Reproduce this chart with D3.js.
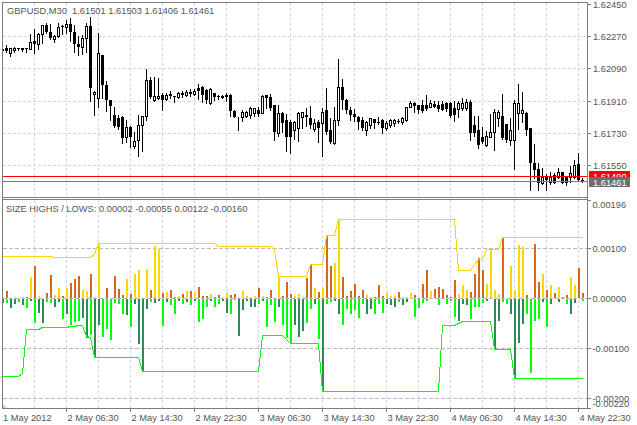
<!DOCTYPE html>
<html><head><meta charset="utf-8">
<script src="https://cdn.jsdelivr.net/npm/d3@7"></script>
<style>
html,body{margin:0;padding:0;background:#fff;}
svg{display:block;}
text{font-family:"Liberation Sans",Arial,sans-serif;font-size:9.3px;fill:#555;}
</style></head><body>
<svg id="c" width="637" height="425"></svg>
<script>
const symbolLabel = "GBPUSD,M30";
const lastQuote = ["1.61501","1.61503","1.61406","1.61461"];
const indicatorName = "SIZE HIGHS / LOWS:";
const indicatorLast = ["0.00002","-0.00055","0.00122","-0.00160"];
const timeLabels = ["1 May 2012","2 May 06:30","2 May 14:30","2 May 22:30","3 May 06:30","3 May 14:30","3 May 22:30","4 May 06:30","4 May 14:30","4 May 22:30"];
const timeLabelBars = [0,16,32,48,64,80,96,112,128,144];
const gridBars = [8,16,24,32,40,48,56,64,72,80,88,96,104,112,120,128,136,144];
const priceTicks = [1.62450,1.62270,1.62090,1.61910,1.61730,1.61550];
const indTicks = [0.00196,0.00100,0,-0.00100,-0.00200,-0.00220];
const indGrid = [0.00100,0,-0.00100,-0.00200];
const askLevel = 1.61490, bidLevel = 1.61461;

const openP = [
1.62193,1.62204,1.62176,1.62193,1.62204,1.62198,1.62204,1.62201,1.62243,1.62226,
1.62282,1.62333,1.62293,1.62254,1.62271,1.62327,1.62319,1.62338,1.62293,1.62226,
1.62210,1.62260,1.62327,1.61947,1.61925,1.62165,1.61997,1.61913,1.61830,1.61813,
1.61818,1.61707,1.61762,1.61656,1.61690,1.61774,1.61824,1.62025,1.61913,1.61925,
1.61941,1.61919,1.61947,1.61936,1.61930,1.61953,1.61941,1.61958,1.61947,1.61980,
1.61986,1.61969,1.61897,1.61953,1.61933,1.61930,1.61936,1.61941,1.61852,1.61816,
1.61818,1.61824,1.61830,1.61841,1.61857,1.61841,1.61941,1.61930,1.61885,1.61729,
1.61841,1.61802,1.61790,1.61746,1.61757,1.61818,1.61830,1.61813,1.61751,1.61790,
1.61785,1.61857,1.61746,1.61673,1.61802,1.61986,1.61913,1.61857,1.61835,1.61818,
1.61802,1.61746,1.61774,1.61807,1.61790,1.61802,1.61757,1.61774,1.61785,1.61796,
1.61790,1.61802,1.61874,1.61897,1.61885,1.61885,1.61885,1.61874,1.61891,1.61885,
1.61891,1.61897,1.61897,1.61869,1.61863,1.61869,1.61869,1.61902,1.61774,1.61746,
1.61707,1.61662,1.61707,1.61735,1.61813,1.61824,1.61779,1.61690,1.61690,1.61841,
1.61841,1.61841,1.61757,1.61561,1.61526,1.61449,1.61483,1.61455,1.61494,1.61483,
1.61509,1.61483,1.61483,1.61483,1.61556,1.61466];
const closeP = [
1.62198,1.62187,1.62204,1.62204,1.62198,1.62204,1.62201,1.62238,1.62226,1.62282,
1.62333,1.62293,1.62260,1.62271,1.62321,1.62319,1.62338,1.62293,1.62226,1.62210,
1.62260,1.62327,1.61980,1.61958,1.62176,1.61997,1.61913,1.61880,1.61768,1.61762,
1.61701,1.61762,1.61707,1.61684,1.61774,1.61824,1.62025,1.61930,1.61936,1.61936,
1.61913,1.61941,1.61936,1.61930,1.61953,1.61941,1.61958,1.61947,1.61964,1.61964,
1.61941,1.61913,1.61975,1.61930,1.61930,1.61936,1.61941,1.61852,1.61818,1.61818,
1.61846,1.61846,1.61869,1.61866,1.61835,1.61936,1.61925,1.61869,1.61735,1.61841,
1.61785,1.61707,1.61707,1.61790,1.61841,1.61846,1.61818,1.61774,1.61785,1.61757,
1.61846,1.61735,1.61679,1.61802,1.61986,1.61913,1.61857,1.61830,1.61818,1.61790,
1.61757,1.61790,1.61813,1.61785,1.61788,1.61757,1.61785,1.61802,1.61802,1.61790,
1.61813,1.61874,1.61897,1.61880,1.61857,1.61852,1.61863,1.61897,1.61874,1.61863,
1.61857,1.61863,1.61824,1.61830,1.61897,1.61897,1.61902,1.61729,1.61729,1.61662,
1.61679,1.61712,1.61735,1.61846,1.61846,1.61701,1.61690,1.61746,1.61897,1.61897,
1.61857,1.61746,1.61561,1.61521,1.61449,1.61483,1.61466,1.61483,1.61449,1.61509,
1.61449,1.61449,1.61503,1.61550,1.61466,1.61461];
// indicator buffers: size of upper wick (highs) and lower wick (lows)
const upperWick = [
0,0.00015,0,0.00003,0,0.00001,0.00001,0.00043,0.00065,0.00005,
0,0.0001,0.00046,0.00007,0.00021,0.00004,0.00021,0.00031,0.00038,0.00045,
0.00017,0.00015,0.00049,0.00003,0.0011,0,0.00021,0,0.00045,0.00018,
0.00006,0.00038,0.00008,0.00048,0.00057,0,0.00059,0.00016,0.00105,0.00098,
0.00011,0.00013,0.00017,0.00001,0.00005,0.00008,0.00014,0.00015,0.00013,0.00023,
0.00005,0.00005,0.00008,0.00001,0.00006,0.00003,0.0001,0.00006,0.00008,0.00003,
0.00014,0.00005,0.00003,0.00005,0.0002,0.00005,0.00001,0.00017,0,0.00045,
0.00005,0.00033,0.00009,0.00004,0.00008,0.00003,0.00041,0.00068,0.0002,0.00013,
0.00021,0.00126,0.00065,0.0007,0.00158,0.00043,0.00005,0.00015,0.00028,0.00005,
0.00016,0.00007,0.00001,0.00001,0.00026,0.00004,0.0001,0.00005,0.00005,0.00013,
0.00003,0.00003,0.0001,0.00006,0,0.00028,0.00057,0.00015,0.00019,0.00023,
0.00019,0.00007,0.00003,0.00037,0.00009,0.00027,0.00016,0.00013,0.00049,0.0008,
0.00057,0.00029,0.00099,0.00017,0.00009,0.00122,0,0.00065,0.00017,0.00107,
0.00103,0.00007,0,0.00108,0.00033,0.00049,0.00016,0.00027,0.00011,0.00023,
0.00002,0.00007,0.00043,0.00026,0.00061,0.00011];
const lowerWick = [
0.00008,0.00008,0.00018,0.0001,0.00005,0.00012,0.00018,0.00003,0.00048,0.00028,
0.00048,0.00005,0.00008,0.00016,0.00005,0.00039,0.00029,0.00051,0.00045,0.00043,
0.00037,0.00077,0.00071,0.00115,0.00051,0.00075,0.00061,0.00081,0.00008,0.0001,
0.00029,0.00031,0.00055,0.0001,0.0009,0.00145,0.0002,0.00005,0.00008,0.00004,
0.00053,0.00005,0.00012,0.00029,0.00004,0.0001,0.00006,0.00012,0.00003,0.00045,
0.00039,0.00015,0.00004,0.00015,0.0001,0.00004,0.00028,0.0003,0.00002,0.00073,
0.00022,0.00003,0.00015,0.00015,0.0001,0.00003,0.00055,0.00012,0.00045,0.00015,
0.00051,0.00078,0.00088,0.00051,0.00075,0.00063,0.00048,0.00019,0.0001,0.00079,
0.00185,0.0001,0.00005,0.00003,0.00029,0.00051,0.00019,0.00029,0.00022,0.00037,
0.0001,0.00029,0.00019,0.00029,0.0001,0.00028,0.0001,0.00012,0.00015,0.00005,
0.00012,0.00005,0,0.00035,0.00018,0.00007,0.00004,0,0,0.00012,
0,0.00009,0.00004,0.00035,0.00043,0.0001,0.00012,0.00039,0.00015,0.00015,
0.00008,0.00004,0,0.00102,0.00043,0.00005,0.0001,0.0003,0.0016,0.00088,
0.0005,0.00029,0.00148,0.00043,0.00039,0.00005,0.00055,0.0001,0,0.00005,
0,0.0001,0.0003,0.00008,0,0.00004];
const upperLine = [
0.00085,0.00085,0.00085,0.00085,0.00085,0.00085,0.00085,0.00085,0.00085,0.00085,
0.00085,0.00085,0.00085,0.00082,0.00082,0.00082,0.00082,0.00082,0.00082,0.00082,
0.00082,0.00082,0.00082,0.00088,0.0011,0.0011,0.0011,0.0011,0.0011,0.0011,
0.0011,0.0011,0.0011,0.0011,0.0011,0.0011,0.0011,0.0011,0.0011,0.0011,
0.0011,0.0011,0.0011,0.0011,0.0011,0.0011,0.0011,0.0011,0.0011,0.0011,
0.0011,0.0011,0.0011,0.0011,0.00105,0.00105,0.00105,0.00105,0.00105,0.00105,
0.00105,0.00105,0.00105,0.00105,0.00105,0.00105,0.00105,0.00105,0.00098,0.00045,
0.00045,0.00045,0.00045,0.00045,0.00045,0.00045,0.00045,0.00068,0.00068,0.00068,
0.00068,0.00126,0.00126,0.00126,0.00158,0.00158,0.00158,0.00158,0.00158,0.00158,
0.00158,0.00158,0.00158,0.00158,0.00158,0.00158,0.00158,0.00158,0.00158,0.00158,
0.00158,0.00158,0.00158,0.00158,0.00158,0.00158,0.00158,0.00158,0.00158,0.00158,
0.00158,0.00158,0.00158,0.00158,0.00057,0.00057,0.00057,0.00057,0.00068,0.00078,
0.00078,0.00098,0.00098,0.00098,0.00098,0.00122,0.00122,0.00122,0.00122,0.00122,
0.00122,0.00122,0.00122,0.00122,0.00122,0.00122,0.00122,0.00122,0.00122,0.00122,
0.00122,0.00122,0.00122,0.00122,0.00122,0.00122];
const lowerLine = [
-0.00156,-0.00156,-0.00156,-0.00156,-0.00156,-0.0015,-0.00062,-0.00062,-0.00062,-0.00062,
-0.00058,-0.00058,-0.00058,-0.00058,-0.00058,-0.00058,-0.00058,-0.00056,-0.00056,-0.00054,
-0.00054,-0.00075,-0.00078,-0.00117,-0.00117,-0.00117,-0.00117,-0.00117,-0.00117,-0.00117,
-0.00117,-0.00117,-0.00117,-0.00117,-0.00118,-0.00145,-0.00145,-0.00145,-0.00145,-0.00145,
-0.00145,-0.00145,-0.00145,-0.00145,-0.00145,-0.00145,-0.00145,-0.00145,-0.00145,-0.00145,
-0.00145,-0.00145,-0.00145,-0.00145,-0.00145,-0.00145,-0.00145,-0.00145,-0.00145,-0.00145,
-0.00145,-0.00145,-0.00145,-0.00145,-0.00145,-0.00074,-0.00074,-0.00074,-0.00074,-0.00074,
-0.00074,-0.00082,-0.0009,-0.0009,-0.0009,-0.0009,-0.0009,-0.0009,-0.0009,-0.0009,
-0.00185,-0.00185,-0.00185,-0.00185,-0.00185,-0.00185,-0.00185,-0.00185,-0.00185,-0.00185,
-0.00185,-0.00185,-0.00185,-0.00185,-0.00185,-0.00185,-0.00185,-0.00185,-0.00185,-0.00185,
-0.00185,-0.00185,-0.00185,-0.00185,-0.00185,-0.00185,-0.00185,-0.00185,-0.00185,-0.00185,
-0.00053,-0.00053,-0.00053,-0.00053,-0.0005,-0.00045,-0.00045,-0.00045,-0.00045,-0.00045,
-0.00045,-0.00045,-0.00045,-0.00102,-0.00102,-0.00102,-0.00102,-0.00102,-0.0016,-0.0016,
-0.0016,-0.0016,-0.0016,-0.0016,-0.0016,-0.0016,-0.0016,-0.0016,-0.0016,-0.0016,
-0.0016,-0.0016,-0.0016,-0.0016,-0.0016,-0.0016];

// ---------- layout ----------
const W = 637, H = 425;
const L = 2, R = 587;
const pTop = 2, pBot = 197, iTop = 199, iBot = 408;
const svg = d3.select("#c");
const n = openP.length;
const idx = d3.range(n);

const x = d3.scaleLinear().domain([0, n - 1]).range([2.7, 582.7]);
const yP = d3.scaleLinear().domain([1.61550, 1.62450]).range([165, 4]);
const yI = d3.scaleLinear().domain([-0.0022, 0.00196]).range([408, 200]);
const px = i => Math.floor(x(i));

const defs = svg.append("defs");
defs.append("clipPath").attr("id","clipP").append("rect").attr("x",L+1).attr("y",pTop+1).attr("width",R-L-1).attr("height",pBot-pTop-1);
defs.append("clipPath").attr("id","clipI").append("rect").attr("x",L+1).attr("y",iTop+1).attr("width",R-L-1).attr("height",iBot-iTop-1);

svg.append("rect").attr("width",W).attr("height",H).attr("fill","#fff");

const gridCol = "#d6d3f0";
const gGrid = svg.append("g").attr("stroke",gridCol).attr("stroke-dasharray","3,2").attr("shape-rendering","crispEdges");
gridBars.forEach(b => {
  gGrid.append("line").attr("x1",px(b)+0.5).attr("x2",px(b)+0.5).attr("y1",pTop+1).attr("y2",pBot);
  gGrid.append("line").attr("x1",px(b)+0.5).attr("x2",px(b)+0.5).attr("y1",iTop+1).attr("y2",iBot);
});
priceTicks.slice(1).forEach(t => {
  const y = Math.round(yP(t)) + 0.5;
  gGrid.append("line").attr("x1",L+1).attr("x2",R).attr("y1",y).attr("y2",y);
});
const gGridI = svg.append("g").attr("stroke","#b9b9b9").attr("stroke-dasharray","4,2").attr("shape-rendering","crispEdges");
indGrid.forEach(t => {
  const y = Math.round(yI(t)) + 0.5;
  gGridI.append("line").attr("x1",L+1).attr("x2",R).attr("y1",y).attr("y2",y);
});

// ---------- candles ----------
const gC = svg.append("g").attr("clip-path","url(#clipP)").attr("shape-rendering","crispEdges");
idx.forEach(i => {
  const o = openP[i], c = closeP[i];
  const hi = Math.max(o,c) + upperWick[i], lo = Math.min(o,c) - lowerWick[i];
  const cx = px(i);
  const yT = Math.round(yP(Math.max(o,c))), yB = Math.round(yP(Math.min(o,c)));
  gC.append("line").attr("x1",cx+0.5).attr("x2",cx+0.5)
    .attr("y1",Math.round(yP(hi))).attr("y2",Math.round(yP(lo))+1).attr("stroke","#000");
  if (c > o) {
    gC.append("rect").attr("x",cx-0.5).attr("y",yT+0.5).attr("width",2).attr("height",Math.max(yB-yT,0))
      .attr("fill","#fff").attr("stroke","#000");
  } else {
    gC.append("rect").attr("x",cx-1).attr("y",yT).attr("width",3).attr("height",Math.max(yB-yT,1))
      .attr("fill","#000");
  }
});

svg.append("line").attr("x1",L+1).attr("x2",R).attr("y1",Math.round(yP(askLevel))+0.5).attr("y2",Math.round(yP(askLevel))+0.5)
  .attr("stroke","#ff0000").attr("shape-rendering","crispEdges");
svg.append("line").attr("x1",L+1).attr("x2",R).attr("y1",Math.round(yP(bidLevel))+0.5).attr("y2",Math.round(yP(bidLevel))+0.5)
  .attr("stroke","#7a7a7a").attr("shape-rendering","crispEdges");

// ---------- indicator ----------
const gI = svg.append("g").attr("clip-path","url(#clipI)");
const gH = gI.append("g").attr("shape-rendering","crispEdges");
const y0 = Math.round(yI(0));
idx.forEach(i => {
  const bull = closeP[i] > openP[i];
  const cx = px(i);
  if (upperWick[i] > 0) {
    const yt = Math.round(yI(upperWick[i]));
    gH.append("rect").attr("x",cx).attr("y",Math.min(yt,y0-1)).attr("width",2).attr("height",Math.max(y0-yt,1))
      .attr("fill", bull ? "#ffd700" : "#d2691e");
  }
  if (lowerWick[i] > 0) {
    const yb = Math.round(yI(-lowerWick[i]));
    gH.append("rect").attr("x",cx).attr("y",y0+1).attr("width",2).attr("height",Math.max(yb-y0,1))
      .attr("fill", bull ? "#2e8b57" : "#00ff00");
  }
});
const line = d3.line().x((d,i) => px(i)+0.5).y(d => Math.round(yI(d))+0.5);
gI.append("path").datum(upperLine).attr("d",line).attr("fill","none").attr("stroke","#ffd700").attr("stroke-width",1).attr("shape-rendering","crispEdges");
gI.append("path").datum(lowerLine).attr("d",line).attr("fill","none").attr("stroke","#00ff00").attr("stroke-width",1).attr("shape-rendering","crispEdges");

// ---------- frame ----------
const frameCol = "#7d7d7d";
const gF = svg.append("g").attr("stroke",frameCol).attr("shape-rendering","crispEdges").attr("fill","none");
gF.append("rect").attr("x",L+0.5).attr("y",pTop+0.5).attr("width",R-L).attr("height",iBot-pTop);
gF.append("line").attr("x1",L).attr("x2",R).attr("y1",pBot+0.5).attr("y2",pBot+0.5);
gF.append("line").attr("x1",L).attr("x2",R).attr("y1",iTop+0.5).attr("y2",iTop+0.5);
svg.append("path").attr("d",`M${L+1},${iBot-4}L${L+5},${iBot}L${L+1},${iBot}Z`).attr("fill","#cfcfe6");

// ---------- axes / labels ----------
const gA = svg.append("g");
priceTicks.forEach(t => {
  const y = Math.round(yP(t));
  gA.append("line").attr("x1",R).attr("x2",R+4).attr("y1",y+0.5).attr("y2",y+0.5).attr("stroke",frameCol).attr("shape-rendering","crispEdges");
  gA.append("text").attr("x",593).attr("y",y+3.5).text(t.toFixed(5));
});
indTicks.forEach((t,k) => {
  const y = Math.round(yI(t));
  gA.append("line").attr("x1",R).attr("x2",R+4).attr("y1",y+0.5).attr("y2",y+0.5).attr("stroke",frameCol).attr("shape-rendering","crispEdges");
  let ty = y + 3.5;
  if (k === 0) ty = y + 7.5;
  if (k === indTicks.length - 1) ty = y - 1.5;
  gA.append("text").attr("x",592.5).attr("y",ty).text(t.toFixed(5));
});
timeLabels.forEach((s,k) => {
  const b = timeLabelBars[k];
  const tx = px(b) + 0.5;
  if (k > 0) gA.append("line").attr("x1",tx).attr("x2",tx).attr("y1",iBot).attr("y2",iBot+4).attr("stroke",frameCol).attr("shape-rendering","crispEdges");
  gA.append("text").attr("x", k === 0 ? 3 : tx + 1).attr("y",421).text(s);
});

svg.append("rect").attr("x",589).attr("y",171).attr("width",41).attr("height",11).attr("fill","#ff0000");
svg.append("text").attr("x",593).attr("y",180).style("fill","#fff").text(askLevel.toFixed(5));
svg.append("rect").attr("x",589).attr("y",177).attr("width",41).attr("height",10).attr("fill","#6e6e6e");
svg.append("text").attr("x",593).attr("y",185.5).style("fill","#fff").text(bidLevel.toFixed(5));

svg.append("text").attr("x",7).attr("y",14).attr("xml:space","preserve")
  .text(symbolLabel + "  " + lastQuote.join(" "));
svg.append("text").attr("x",6).attr("y",212).text(indicatorName + " " + indicatorLast.join(" "));
</script>
</body></html>
